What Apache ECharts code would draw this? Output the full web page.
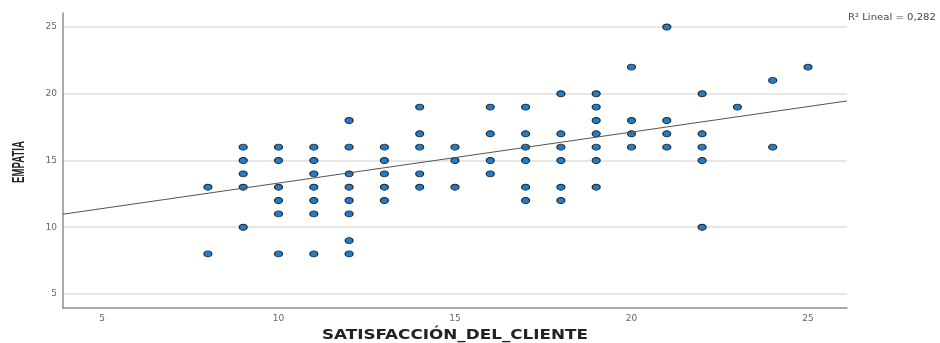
<!DOCTYPE html>
<html>
<head>
<meta charset="utf-8">
<script src="https://cdn.jsdelivr.net/npm/echarts@6/dist/echarts.min.js"></script>
<style>html,body{margin:0;padding:0;background:#fff;}#c{width:940px;height:343px;}</style>
</head>
<body>
<div id="c"></div>
<script>
// Data
var satisfaccion = [
  8,8,
  9,9,9,9,9,
  10,10,10,10,10,10,
  11,11,11,11,11,11,11,
  12,12,12,12,12,12,12,12,
  13,13,13,13,13,
  14,14,14,14,14,
  15,15,15,
  16,16,16,16,
  17,17,17,17,17,17,
  18,18,18,18,18,18,
  19,19,19,19,19,19,19,
  20,20,20,20,
  21,21,21,21,
  22,22,22,22,22,
  23,
  24,24,
  25
];
var empatia = [
  13,8,
  16,15,14,13,10,
  16,15,13,12,11,8,
  16,15,14,13,12,11,8,
  18,16,14,13,12,11,9,8,
  16,15,14,13,12,
  19,17,16,14,13,
  16,15,13,
  19,17,15,14,
  19,17,16,15,13,12,
  20,17,16,15,13,12,
  20,19,18,17,16,15,13,
  22,18,17,16,
  25,18,17,16,
  20,17,16,15,10,
  19,
  21,16,
  22
];
var xTicks = [5, 10, 15, 20, 25];
var yTicks = [5, 10, 15, 20, 25];
// Fit line: intercept, slope
var fitIntercept = 9.49;
var fitSlope = 0.382;
var r2Label = 'R² Lineal = 0,282';
var xName = 'SATISFACCIÓN_DEL_CLIENTE';
var yName = 'EMPATIA';

var xMin = 3.895, xMax = 26.105, yMin = 3.95, yMax = 26.05;

var points = satisfaccion.map(function (x, i) { return [x, empatia[i]]; });
var fitData = [[xMin, fitIntercept + fitSlope * xMin], [xMax, fitIntercept + fitSlope * xMax]];

var chart = echarts.init(document.getElementById('c'), null, {renderer: 'canvas'});
var axisLineStyle = {color: '#8f8f8f', width: 1.5};
chart.setOption({
  animation: false,
  backgroundColor: '#fff',
  grid: {left: 63, right: 93, top: 13, bottom: 35, containLabel: false, outerBoundsMode: 'none'},
  xAxis: {
    type: 'value', min: xMin, max: xMax,
    axisLine: {show: true, lineStyle: axisLineStyle},
    axisTick: {show: false, customValues: xTicks},
    axisLabel: {customValues: xTicks, color: '#666', fontSize: 9, fontFamily: 'DejaVu Sans', margin: 6},
    splitLine: {show: false}
  },
  yAxis: {
    type: 'value', min: yMin, max: yMax,
    axisLine: {show: true, lineStyle: axisLineStyle},
    axisTick: {show: false, customValues: yTicks},
    axisLabel: {customValues: yTicks, color: '#666', fontSize: 9, fontFamily: 'DejaVu Sans', margin: 6},
    splitLine: {show: true, lineStyle: {color: '#dedede', width: 1.5}}
  },
  series: [
    {
      type: 'scatter', data: points, symbol: 'circle', symbolSize: [8, 6],
      itemStyle: {color: '#1f7dcc', borderColor: '#222', borderWidth: 1, opacity: 1},
      z: 3
    },
    {
      type: 'line', data: fitData, symbol: 'none', silent: true,
      lineStyle: {color: '#555', width: 1}, z: 4
    }
  ],
  graphic: [
    {
      type: 'text', x: 19, y: 162, rotation: Math.PI / 2, scaleX: 0.8, scaleY: 1.4,
      style: {text: yName, font: 'bold 12px "Liberation Sans"', fill: '#222', align: 'center', verticalAlign: 'middle'}
    },
    {
      type: 'text', x: 455, y: 335, scaleX: 1.2,
      style: {text: xName, font: 'bold 14px "DejaVu Sans"', fill: '#222', align: 'center', verticalAlign: 'middle'}
    },
    {
      type: 'text', x: 848, y: 18, scaleX: 1.12,
      style: {text: r2Label, font: '9px "DejaVu Sans"', fill: '#444', align: 'left', verticalAlign: 'middle'}
    }
  ]
});
</script>
</body>
</html>
